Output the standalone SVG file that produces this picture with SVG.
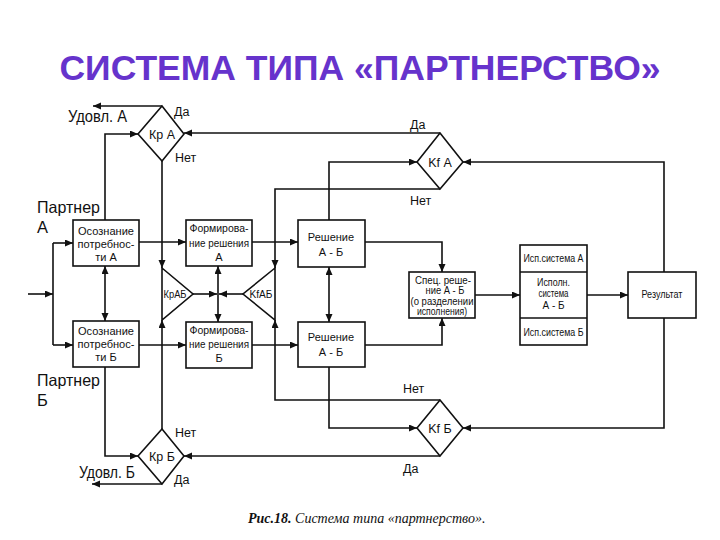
<svg xmlns="http://www.w3.org/2000/svg" width="720" height="540" viewBox="0 0 720 540">
<style>
.title{font-family:"Liberation Sans",Arial,sans-serif;font-weight:bold;font-size:35.5px;fill:#6633CC}
.box{fill:#fff;stroke:#111;stroke-width:1.6}
.t{font-family:"Liberation Sans",Arial,sans-serif;fill:#111;text-anchor:middle}
.s11{font-size:11px}
.s10{font-size:10px}
.s12{font-size:12.5px}
.lbl{font-family:"Liberation Sans",Arial,sans-serif;fill:#111;font-size:12.5px}
.big{font-family:"Liberation Sans",Arial,sans-serif;fill:#111;font-size:16.5px}
.ln{fill:none;stroke:#111;stroke-width:1.6}
.a{marker-end:url(#ah)}
.aa{marker-end:url(#ah);marker-start:url(#ah)}
.cap{font-family:"Liberation Serif","Times New Roman",serif;font-style:italic;font-size:14px;fill:#111}
</style>
<defs>
<marker id="ah" markerUnits="userSpaceOnUse" markerWidth="9" markerHeight="8" refX="8" refY="3.5" orient="auto-start-reverse">
<path d="M0,0 L8,3.5 L0,7 z" fill="#111"/>
</marker>
</defs>
<rect width="720" height="540" fill="#fff"/>
<text class="title" x="360" y="80" text-anchor="middle">СИСТЕМА ТИПА «ПАРТНЕРСТВО»</text>

<g id="connectors">
<path class="ln a" d="M28,294 H53"/>
<path class="ln" d="M53,243 V345"/>
<path class="ln a" d="M53,243 H73"/>
<path class="ln a" d="M53,345 H73"/>
<path class="ln aa" d="M105,266 V321"/>
<path class="ln a" d="M105,220 V134 H138"/>
<path class="ln a" d="M105,367 V456 H138"/>
<path class="ln a" d="M162,106 H93"/>
<path class="ln a" d="M162,484 H92"/>
<path class="ln a" d="M162,161 V268"/>
<path class="ln a" d="M162,429 V320"/>
<path class="ln a" d="M139,242 H186"/>
<path class="ln a" d="M139,345 H186"/>
<path class="ln a" d="M193,294 H217"/>
<path class="ln a" d="M243,294 H219"/>
<path class="ln aa" d="M218,266 V322"/>
<path class="ln a" d="M252,242 H298"/>
<path class="ln a" d="M252,345 H298"/>
<path class="ln aa" d="M329,267 V322"/>
<path class="ln a" d="M329,220 V162 H417"/>
<path class="ln a" d="M329,367 V428 H417"/>
<path class="ln a" d="M440,133 H184"/>
<path class="ln a" d="M440,456 H184"/>
<path class="ln a" d="M440,189 H275 V268"/>
<path class="ln a" d="M440,400 H275 V320"/>
<path class="ln a" d="M365,242 H442 V272"/>
<path class="ln a" d="M365,345 H442 V318"/>
<path class="ln a" d="M475,295 H520"/>
<path class="ln a" d="M587,295 H628"/>
<path class="ln a" d="M664,272 V162 H463"/>
<path class="ln a" d="M664,318 V428 H463"/>
</g>

<g id="partnerA">
<text class="big" x="37" y="213" textLength="63" lengthAdjust="spacingAndGlyphs">Партнер</text>
<text class="big" x="37" y="233">А</text>
</g>
<g id="partnerB">
<text class="big" x="37" y="386" textLength="63" lengthAdjust="spacingAndGlyphs">Партнер</text>
<text class="big" x="37" y="406">Б</text>
</g>
<g id="udovlA"><text class="big" x="68" y="122" textLength="59" lengthAdjust="spacingAndGlyphs">Удовл. А</text></g>
<g id="udovlB"><text class="big" x="79" y="478" textLength="56" lengthAdjust="spacingAndGlyphs">Удовл. Б</text></g>

<g id="osoznanieA">
<rect class="box" x="73" y="220" width="66" height="46"/>
<text class="t s11" x="106" y="235" textLength="56" lengthAdjust="spacingAndGlyphs">Осознание</text>
<text class="t s11" x="106" y="248" textLength="57" lengthAdjust="spacingAndGlyphs">потребнос-</text>
<text class="t s11" x="106" y="261">ти А</text>
</g>
<g id="osoznanieB">
<rect class="box" x="73" y="321" width="66" height="46"/>
<text class="t s11" x="106" y="335" textLength="56" lengthAdjust="spacingAndGlyphs">Осознание</text>
<text class="t s11" x="106" y="348" textLength="57" lengthAdjust="spacingAndGlyphs">потребнос-</text>
<text class="t s11" x="106" y="361">ти Б</text>
</g>

<g id="formA">
<rect class="box" x="186" y="220" width="66" height="46"/>
<text class="t s11" x="219" y="232" textLength="59" lengthAdjust="spacingAndGlyphs">Формирова-</text>
<text class="t s11" x="219" y="247" textLength="60" lengthAdjust="spacingAndGlyphs">ние решения</text>
<text class="t s11" x="219" y="261">А</text>
</g>
<g id="formB">
<rect class="box" x="186" y="322" width="66" height="46"/>
<text class="t s11" x="219" y="334" textLength="59" lengthAdjust="spacingAndGlyphs">Формирова-</text>
<text class="t s11" x="219" y="348" textLength="60" lengthAdjust="spacingAndGlyphs">ние решения</text>
<text class="t s11" x="219" y="362">Б</text>
</g>

<g id="reshA">
<rect class="box" x="298" y="220" width="67" height="47"/>
<text class="t s11" x="331" y="241">Решение</text>
<text class="t s11" x="331" y="256">А - Б</text>
</g>
<g id="reshB">
<rect class="box" x="298" y="322" width="67" height="45"/>
<text class="t s11" x="331" y="341">Решение</text>
<text class="t s11" x="331" y="356">А - Б</text>
</g>

<g id="krA">
<polygon class="box" points="162,106 184,134 162,161 138,134"/>
<text class="t s12" x="162" y="139">Кр А</text>
<text class="lbl" x="174" y="116">Да</text>
<text class="lbl" x="175" y="162">Нет</text>
</g>
<g id="krB">
<polygon class="box" points="162,429 184,456 162,484 138,456"/>
<text class="t s12" x="162" y="461">Кр Б</text>
<text class="lbl" x="175" y="437">Нет</text>
<text class="lbl" x="174" y="484">Да</text>
</g>
<g id="kfA">
<polygon class="box" points="440,133 463,162 440,189 417,162"/>
<text class="t s12" x="440" y="167">Kf А</text>
<text class="lbl" x="410" y="129">Да</text>
<text class="lbl" x="410" y="205">Нет</text>
</g>
<g id="kfB">
<polygon class="box" points="440,400 463,428 440,456 417,428"/>
<text class="t s12" x="440" y="433">Kf Б</text>
<text class="lbl" x="403" y="393">Нет</text>
<text class="lbl" x="403" y="473">Да</text>
</g>

<g id="krAB">
<polygon class="box" points="162,268 193,294 162,320"/>
<text class="t" style="font-size:11px" x="175" y="298" textLength="23" lengthAdjust="spacingAndGlyphs">КрАБ</text>
</g>
<g id="kfAB">
<polygon class="box" points="275,268 243,294 275,320"/>
<text class="t" style="font-size:11px" x="261" y="298" textLength="23" lengthAdjust="spacingAndGlyphs">KfАБ</text>
</g>

<g id="spec">
<rect class="box" x="409" y="272" width="66" height="46"/>
<text class="t s10" x="443" y="284" textLength="56" lengthAdjust="spacingAndGlyphs">Спец. реше-</text>
<text class="t s10" x="445" y="294" textLength="39" lengthAdjust="spacingAndGlyphs">ние А - Б</text>
<text class="t s10" x="442" y="305" textLength="63" lengthAdjust="spacingAndGlyphs">(о разделении</text>
<text class="t s10" x="442" y="315" textLength="50" lengthAdjust="spacingAndGlyphs">исполнения)</text>
</g>

<g id="isp">
<rect class="box" x="520" y="245" width="67" height="100"/>
<line class="ln" x1="520" y1="272" x2="587" y2="272"/>
<line class="ln" x1="520" y1="318" x2="587" y2="318"/>
<text class="t s10" x="553.5" y="262" textLength="60" lengthAdjust="spacingAndGlyphs">Исп.система А</text>
<text class="t s10" x="553.5" y="286" textLength="33" lengthAdjust="spacingAndGlyphs">Исполн.</text>
<text class="t s10" x="553.5" y="297" textLength="30" lengthAdjust="spacingAndGlyphs">система</text>
<text class="t s10" x="553.5" y="309">А - Б</text>
<text class="t s10" x="553.5" y="336" textLength="60" lengthAdjust="spacingAndGlyphs">Исп.система Б</text>
</g>

<g id="result">
<rect class="box" x="628" y="272" width="68" height="46"/>
<text class="t" style="font-size:10px" x="662" y="298" textLength="41" lengthAdjust="spacingAndGlyphs">Результат</text>
</g>

<g id="caption">
<text class="cap" x="248" y="523"><tspan font-weight="bold">Рис.18.</tspan> Система типа «партнерство».</text>
</g>
</svg>
